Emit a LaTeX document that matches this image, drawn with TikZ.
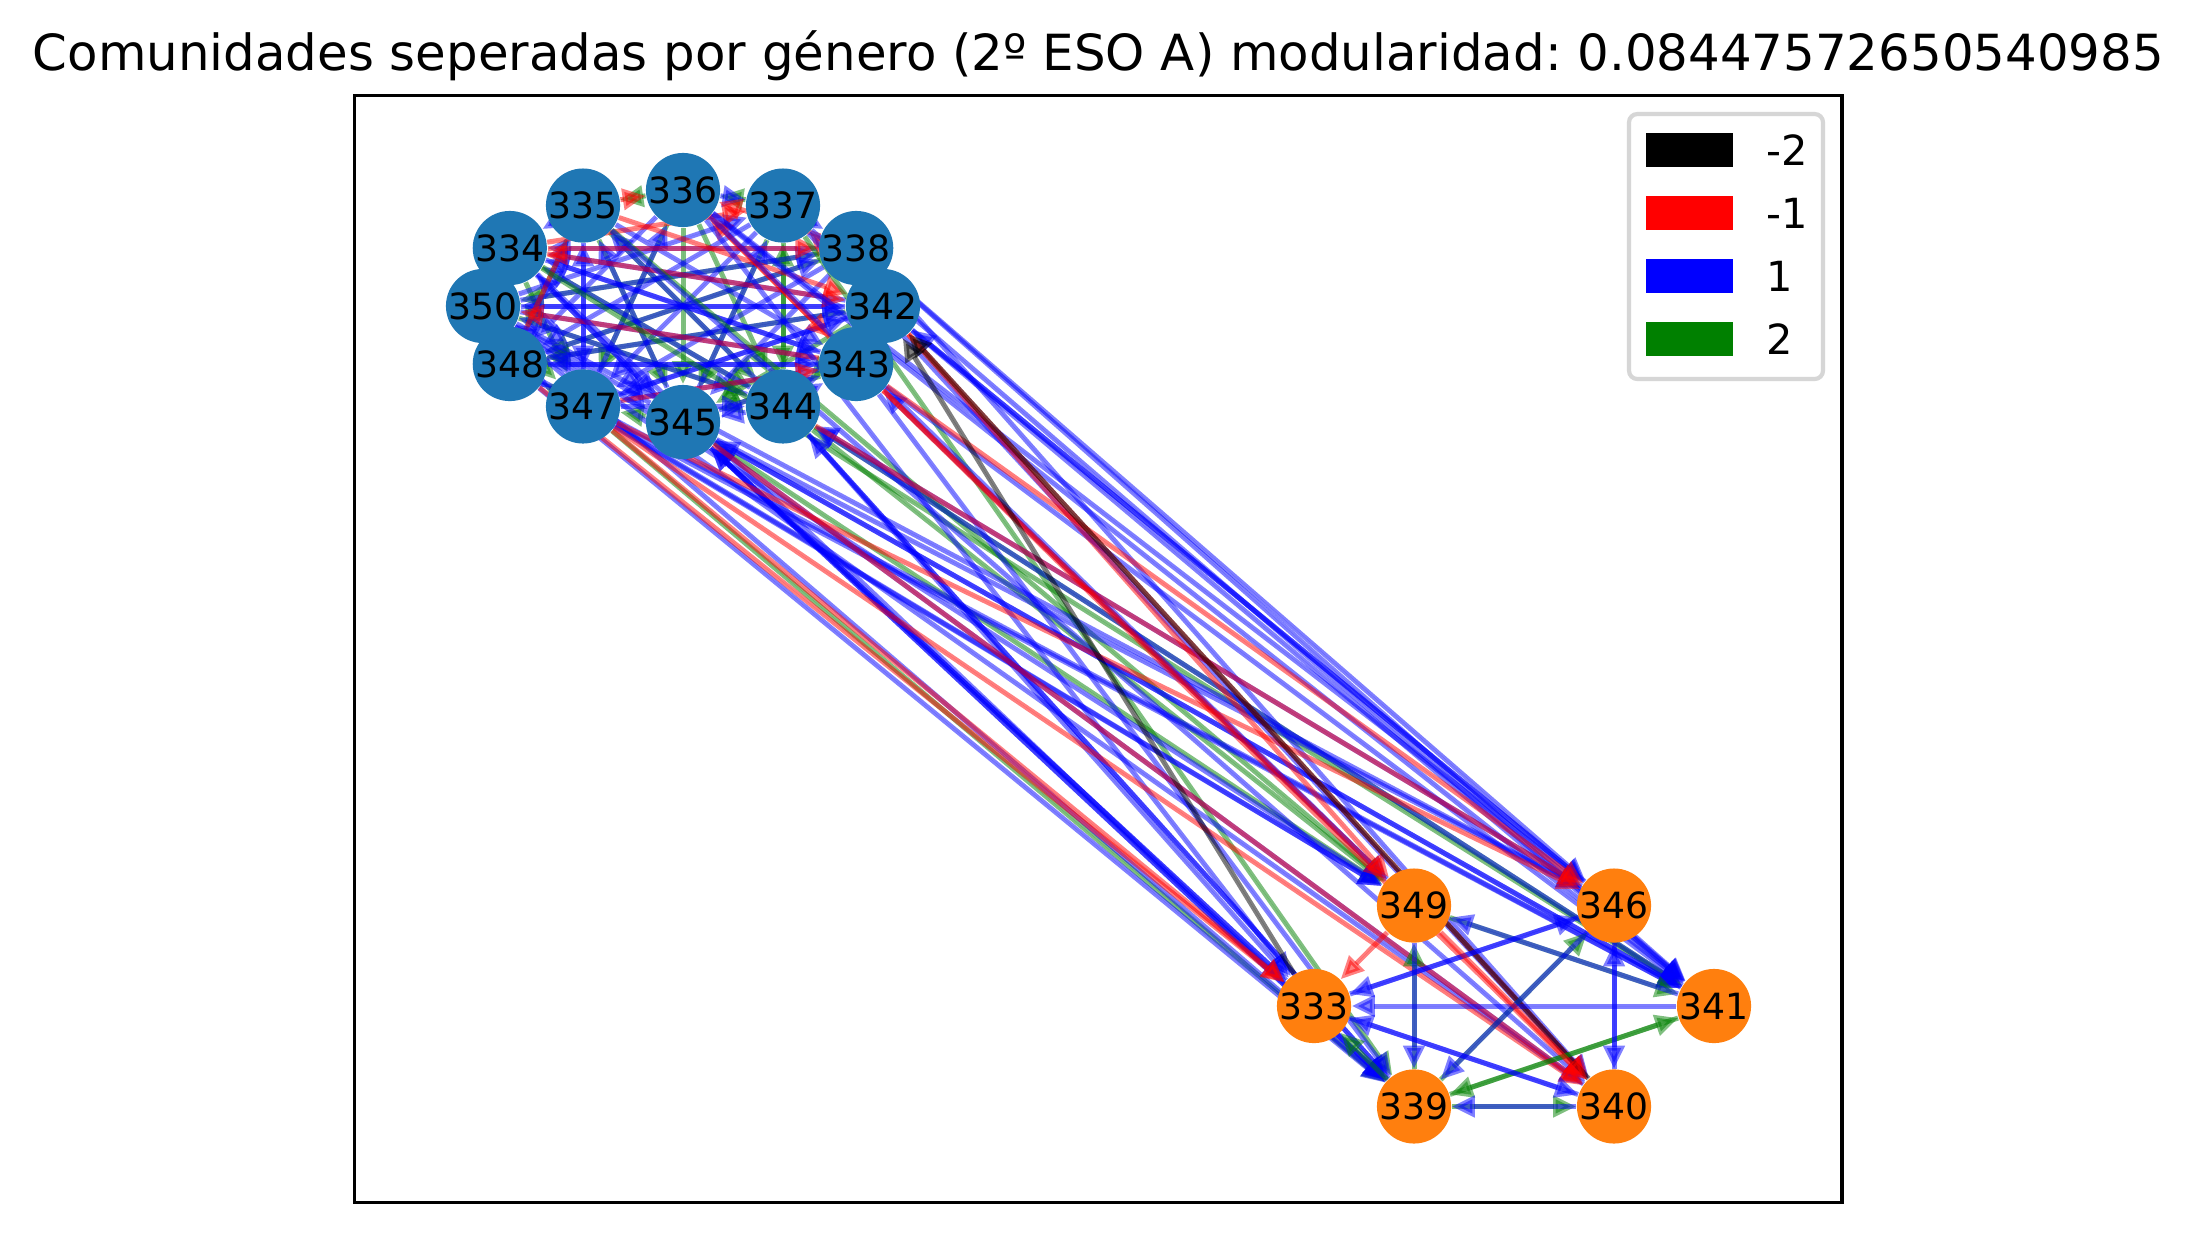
\documentclass[tikz,border=0pt]{standalone}
\usepackage{fontspec}
\setmainfont{DejaVu Sans}
\frenchspacing
\usetikzlibrary{arrows.meta}
\definecolor{nxblue}{HTML}{1F77B4}
\definecolor{nxorange}{HTML}{FF7F0E}
\definecolor{mplgreen}{HTML}{008000}
\pgfdeclarelayer{bg}
\pgfdeclarelayer{edgelayer}
\pgfsetlayers{bg,edgelayer,main}
\tikzset{
  student/.style={circle, inner sep=0pt, minimum size=17.6bp, font=\fontsize{8.7}{10}\selectfont},
  girl/.style={student, fill=nxblue},
  boy/.style={student, fill=nxorange},
  tie/.style={line width=1.2bp, opacity=0.5, -{Triangle[length=5.5bp,width=5bp]}},
  tieblack/.style={tie, draw=black, fill=black},
  tiered/.style={tie, draw=red, fill=red},
  tieblue/.style={tie, draw=blue, fill=blue},
  tiegreen/.style={tie, draw=mplgreen, fill=mplgreen}
}
\begin{document}
\begin{tikzpicture}[x=0.24bp,y=-0.24bp]
  \useasboundingbox (0,0) rectangle (2198,1233);
  \begin{pgfonlayer}{bg}\fill[white] (0,0) rectangle (2198,1233);\end{pgfonlayer}
  \node[font=\fontsize{12}{14}\selectfont, anchor=base] (title) at (1098.4,70)
    {Comunidades seperadas por género (2º ESO A) modularidad: 0.08447572650540985};
  \draw[line width=0.8bp] (354.7,95.3) rectangle (1842,1202.7);
  \foreach \n/\a in {342/0,338/30,337/60,336/90,335/120,334/150,350/180,348/210,347/240,345/270,344/300,343/330}
    \node[girl] (n\n) at ({683+200*cos(\a)},{306-116*sin(\a)}) {\n};
  \foreach \n/\a in {341/0,346/60,349/120,333/180,339/240,340/300}
    \node[boy] (n\n) at ({1514+200*cos(\a)},{1006-116*sin(\a)}) {\n};
  \begin{pgfonlayer}{edgelayer}
  % inside the first group
  \foreach \s/\t in {336/335,337/336,336/345,337/344,344/337,334/344,334/347,350/344,335/344,335/345,338/348,342/348,337/345,342/345,336/347,336/344,342/344,350/347,335/348,334/348,338/350,343/345,347/348,345/347}
    \draw[tiegreen] (n\s) -- (n\t);
  \foreach \s/\t in {336/337,337/338,338/334,344/345,335/347,347/335,342/334,350/342,348/342,347/342,334/343,335/343,348/343,350/343,337/347,338/347,342/347,343/347,344/350,345/350,342/350,343/348,337/348,336/348,345/334,344/334,343/334,347/336,344/335,345/335,350/338,348/338,345/337,347/344,345/343,338/345,334/345,350/337,334/350,348/350,343/342,338/342,344/343,335/334,348/347}
    \draw[tieblue] (n\s) -- (n\t);
  \foreach \s/\t in {335/336,334/338,343/336,336/343,334/342,335/342,343/350,338/336,342/337,348/335,347/343,334/337}
    \draw[tiered] (n\s) -- (n\t);
  % between the groups
  \foreach \s/\t in {345/349,344/349,335/349,344/341,334/341,347/339,337/339}
    \draw[tiegreen] (n\s) -- (n\t);
  \foreach \s/\t in {347/349,348/349,350/349,336/349,342/346,338/346,336/346,345/346,350/346,342/341,338/341,343/341,337/341,347/341,348/341,345/341,336/341,344/333,345/333,336/333,345/339,344/339,350/339,348/339,343/339,334/339,338/340,337/340,350/340,335/340,341/344,346/344,339/345,341/345,349/343,346/342,340/345,333/345,339/344}
    \draw[tieblue] (n\s) -- (n\t);
  \foreach \s/\t in {343/349,342/349,347/346,343/346,344/346,347/333,348/333,342/340,345/340,347/340,343/340}
    \draw[tiered] (n\s) -- (n\t);
  \foreach \s/\t in {333/342,340/342}
    \draw[tieblack] (n\s) -- (n\t);
  % inside the second group
  \foreach \s/\t in {339/349,349/341,339/346,339/341,341/339,339/340,339/333}
    \draw[tiegreen] (n\s) -- (n\t);
  \foreach \s/\t in {333/346,346/333,341/333,333/340,340/333,349/339,341/349,346/339,346/340,340/346,340/339}
    \draw[tieblue] (n\s) -- (n\t);
  \foreach \s/\t in {349/333,349/340}
    \draw[tiered] (n\s) -- (n\t);
  \end{pgfonlayer}
  \draw[draw=black!16, fill=white, line width=1bp, rounded corners=2bp] (1629,114) rectangle (1823,379);
  \foreach \c/\l [count=\i from 0] in {black/-2,red/-1,blue/1,mplgreen/2}{
    \fill[\c] (1646,{133+63*\i}) rectangle (1733,{167+63*\i});
    \node[anchor=west, inner sep=0pt, font=\fontsize{10}{12}\selectfont] (key\i) at (1766,{150+63*\i}) {\l};
  }
\end{tikzpicture}
\end{document}
